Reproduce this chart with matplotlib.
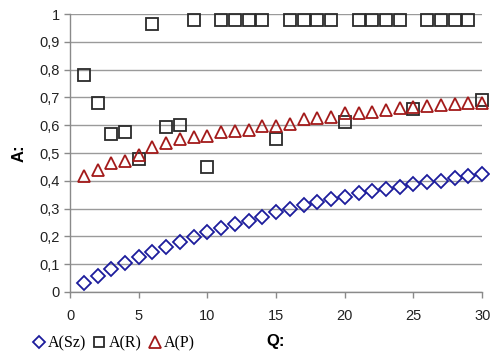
import matplotlib
matplotlib.use("Agg")
import matplotlib.pyplot as plt
from matplotlib.ticker import FuncFormatter, FixedLocator

q = list(range(1, 31))
a_sz = [0.034, 0.057, 0.082, 0.103, 0.125, 0.145, 0.161, 0.181, 0.199, 0.216,
        0.229, 0.245, 0.256, 0.271, 0.287, 0.297, 0.313, 0.323, 0.333, 0.343,
        0.355, 0.363, 0.369, 0.379, 0.387, 0.396, 0.400, 0.409, 0.417, 0.424]
a_r = [0.78, 0.68, 0.57, 0.575, 0.48, 0.965, 0.595, 0.60, 0.98, 0.45,
       0.98, 0.98, 0.98, 0.98, 0.55, 0.98, 0.98, 0.98, 0.98, 0.61,
       0.98, 0.98, 0.98, 0.98, 0.66, 0.98, 0.98, 0.98, 0.98, 0.69]
a_p = [0.417, 0.439, 0.463, 0.472, 0.493, 0.523, 0.537, 0.549, 0.559, 0.561,
       0.574, 0.580, 0.582, 0.597, 0.597, 0.604, 0.621, 0.627, 0.631, 0.643,
       0.645, 0.649, 0.655, 0.661, 0.667, 0.668, 0.673, 0.676, 0.679, 0.681]
x_ticks = [0, 5, 10, 15, 20, 25, 30]
y_ticks = [0, 0.1, 0.2, 0.3, 0.4, 0.5, 0.6, 0.7, 0.8, 0.9, 1.0]

plt.rcParams['font.family'] = ['Liberation Sans', 'DejaVu Sans']

fig = plt.figure(figsize=(4.9, 3.52), dpi=100)
ax = fig.add_axes([0.143, 0.1705, 0.841, 0.7895])

ax.plot(q, a_sz, linestyle='none', marker='D', markersize=7.0, markerfacecolor='none',
        markeredgecolor='#1c1c9c', markeredgewidth=1.3, label='A(Sz)', clip_on=False, zorder=3)
ax.plot(q, a_r, linestyle='none', marker='s', markersize=8.6, markerfacecolor='none',
        markeredgecolor='#2a2a2a', markeredgewidth=1.3, label='A(R)', clip_on=False, zorder=3)
ax.plot(q, a_p, linestyle='none', marker='^', markersize=9.0, markerfacecolor='none',
        markeredgecolor='#a31a1a', markeredgewidth=1.3, label='A(P)', clip_on=False, zorder=3)

ax.set_xlim(0, 30)
ax.set_ylim(0, 1)
ax.xaxis.set_major_locator(FixedLocator(x_ticks))
ax.yaxis.set_major_locator(FixedLocator(y_ticks))
ax.yaxis.set_major_formatter(FuncFormatter(lambda v, p: ('%g' % round(v, 1)).replace('.', ',')))
ax.grid(axis='y', color='#9a9a9a', linewidth=1.0)
ax.set_axisbelow(True)
for s in ['top', 'right']:
    ax.spines[s].set_visible(False)
for s in ['left', 'bottom']:
    ax.spines[s].set_color('#8a8a8a')
    ax.spines[s].set_linewidth(1.0)
ax.tick_params(axis='both', colors='#8a8a8a', labelcolor='#222222', labelsize=10.5, length=4, width=1.0)
ax.tick_params(axis='x', pad=8)

ax.set_xlabel('Q:', fontsize=12, fontweight='bold', labelpad=8)
ax.set_ylabel('A:', fontsize=12, fontweight='bold', labelpad=9)

leg = fig.legend(loc='lower left', bbox_to_anchor=(0.033, -0.04), ncol=3, frameon=False,
                 prop={'family': ['Liberation Serif', 'DejaVu Serif'], 'size': 11.5},
                 handletextpad=0.1, columnspacing=0.3, handlelength=1.0, markerscale=0.9)

fig.savefig('out.png', dpi=100)
